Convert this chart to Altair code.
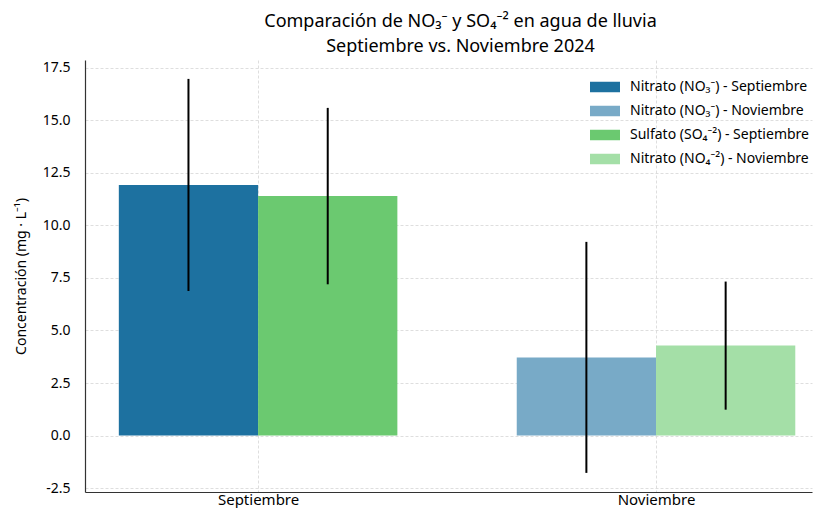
import altair as alt
import pandas as pd

# ---- data ----
months = ["Septiembre", "Noviembre"]
series_labels = [
    "Nitrato (NO₃⁻) - Septiembre",
    "Nitrato (NO₃⁻) - Noviembre",
    "Sulfato (SO₄⁻²) - Septiembre",
    "Nitrato (NO₄⁻²) - Noviembre",
]
series_month = ["Septiembre", "Noviembre", "Septiembre", "Noviembre"]
series_ion = ["NO3", "NO3", "SO4", "SO4"]
means = [11.93, 3.72, 11.40, 4.28]
errors = [5.05, 5.50, 4.20, 3.05]
colors = ["#1d71a0", "#78aac7", "#6bc970", "#a4dfa7"]
y_ticks = [-2.5, 0.0, 2.5, 5.0, 7.5, 10.0, 12.5, 15.0, 17.5]

BAR_W = 0.35
df = pd.DataFrame({
    "serie": series_labels,
    "mes": series_month,
    "ion": series_ion,
    "media": means,
    "err": errors,
})
df["m"] = df["mes"].map({m: i for i, m in enumerate(months)})
df["x0"] = df["m"] + df["ion"].map({"NO3": -BAR_W, "SO4": 0.0})
df["x1"] = df["x0"] + BAR_W
df["xc"] = df["x0"] + BAR_W / 2
df["lo"] = df["media"] - df["err"]
df["hi"] = df["media"] + df["err"]

FONT = "Noto Sans"
xscale = alt.Scale(domain=[-0.435, 1.392], nice=False, zero=False)
yscale = alt.Scale(domain=[-2.69, 17.88], nice=False, zero=False)

label_expr = "datum.value == 0 ? 'Septiembre' : (datum.value == 1 ? 'Noviembre' : '')"
ylabel_expr = "replace(format(datum.value, '.1f'), '\u2212', '-')"

base = alt.Chart(df)

bars = base.mark_bar(opacity=1).encode(
    x=alt.X("x0:Q", scale=xscale,
            axis=alt.Axis(values=[0, 1], labelExpr=label_expr, title=None,
                          ticks=False, labelPadding=0, labelFontSize=15,
                          labelBaseline="top")),
    x2="x1:Q",
    y=alt.Y("media:Q", scale=yscale,
            axis=alt.Axis(values=y_ticks, labelExpr=ylabel_expr, ticks=False,
                          labelPadding=15, labelFontSize=14,
                          title="Concentración (mg · L⁻¹)", titleFontSize=14,
                          titleFontWeight="normal", titlePadding=14)),
    y2=alt.datum(0),
    color=alt.Color("serie:N",
                    scale=alt.Scale(domain=series_labels, range=colors),
                    legend=alt.Legend(title=None, orient="none", legendX=505, legendY=12,
                                      symbolType="M-1,-0.35H1V0.35H-1Z", symbolSize=900,
                                      symbolStrokeWidth=0, symbolOpacity=1,
                                      labelFontSize=14, labelOffset=10, rowPadding=2,
                                      labelLimit=300)),
)

err = base.mark_rule(color="black", strokeWidth=2).encode(
    x="xc:Q",
    y="lo:Q",
    y2="hi:Q",
)

chart = (bars + err).properties(
    width=727,
    height=432,
    autosize=alt.AutoSizeParams(type="none"),
    padding={"left": 77, "top": 52, "right": 1, "bottom": 16},
    title=alt.TitleParams(
        text=["Comparación de NO₃⁻ y SO₄⁻² en agua de lluvia", "Septiembre vs. Noviembre 2024"],
        fontSize=18, fontWeight="normal", font=FONT, color="black",
        lineHeight=25, offset=4, anchor="middle", dx=12,
    ),
).configure_view(stroke=None).configure_axis(
    labelFont=FONT, titleFont=FONT, labelColor="black", titleColor="black",
    domainColor="#333333", domainWidth=1.2,
    gridColor="#d5d5d5", gridDash=[3, 2], gridWidth=0.8,
).configure_legend(
    labelFont=FONT, labelColor="black",
)

chart.save("out.html", embed_options={"renderer": "svg", "actions": False})
